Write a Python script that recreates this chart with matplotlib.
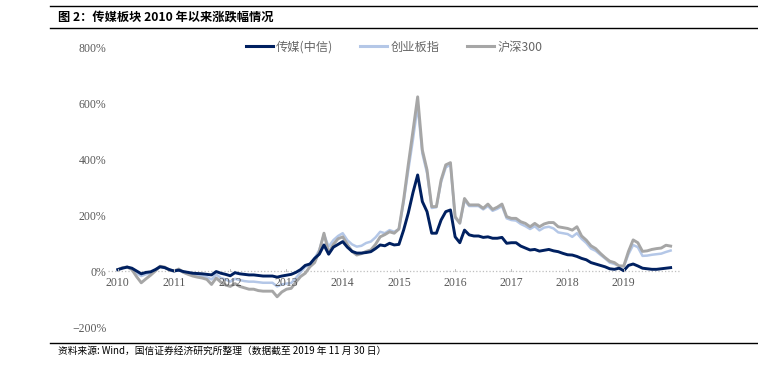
import matplotlib
matplotlib.use("Agg")
import matplotlib.pyplot as plt
import matplotlib.lines as mlines

plt.rcParams['font.family'] = ['Noto Sans CJK SC', 'DejaVu Sans']

# Monthly data, Jan 2010 .. Nov 2019 (month index 0..118), cumulative change in %
media = [5, 10, 14, 10, 0, -10, -5, -3, 5, 15, 12, 5,
         0, 3, -2, -5, -8, -9, -10, -12, -14, -2, -8, -12,
         -17, -6, -10, -12, -14, -14, -16, -18, -18, -18, -22, -18,
         -15, -12, -5, 5, 20, 25, 45, 60, 93, 60, 85, 95,
         105, 85, 70, 64, 64, 66, 69, 80, 93, 90, 99, 93,
         95, 146, 207, 280, 343, 248, 212, 135, 135, 182, 212, 218,
         122, 101, 146, 129, 125, 125, 120, 122, 117, 117, 120, 99,
         101, 101, 89, 82, 75, 77, 71, 74, 77, 72, 69, 63,
         58, 57, 52, 45, 40, 30, 25, 20, 15, 8, 6, 10,
         1, 20, 25, 18, 10, 8, 6, 6, 8, 10, 12]
chinext = [5, 12, 15, 8, -8, -18, -12, -8, 3, 15, 12, 5,
           0, 5, -5, -10, -14, -16, -18, -22, -30, -12, -25, -30,
           -38, -28, -32, -36, -38, -38, -40, -42, -42, -42, -55, -48,
           -45, -43, -25, -5, 15, 20, 45, 75, 130, 87, 110, 125,
           135, 110, 95, 87, 90, 100, 105, 120, 140, 135, 146, 140,
           150, 245, 360, 470, 590, 420, 350, 225, 228, 318, 370, 380,
           190, 170, 252, 232, 232, 232, 220, 232, 215, 222, 232, 188,
           182, 180, 168, 160, 150, 160, 145, 155, 158, 152, 138, 135,
           132, 122, 135, 115, 100, 80, 72, 58, 45, 30, 25, 18,
           16, 60, 93, 85, 54, 55, 58, 60, 62, 68, 73]
hs300 = [5, 12, 14, 5, -20, -42, -28, -15, 0, 17, 14, 3,
         0, 7, -5, -12, -18, -22, -25, -30, -48, -25, -40, -50,
         -55, -45, -55, -60, -65, -65, -70, -72, -72, -72, -92, -75,
         -65, -62, -40, -20, -8, 15, 30, 70, 135, 64, 95, 115,
         122, 95, 70, 57, 62, 70, 75, 95, 122, 130, 140, 135,
         150, 254, 380, 500, 622, 432, 361, 230, 230, 325, 379, 387,
         194, 171, 259, 236, 236, 236, 224, 239, 220, 228, 239, 194,
         188, 188, 176, 170, 158, 170, 158, 168, 173, 173, 158, 155,
         152, 146, 158, 125, 110, 90, 80, 63, 48, 35, 30, 18,
         18, 70, 111, 101, 70, 72, 77, 80, 82, 92, 89]
series_names = ['传媒(中信)', '创业板指', '沪深300']
year_labels = ['2010', '2011', '2012', '2013', '2014', '2015', '2016', '2017', '2018', '2019']
y_ticks = [-200, 0, 200, 400, 600, 800]

months = list(range(len(media)))
c_media, c_cy, c_hs = '#002060', '#B4C7E7', '#A6A6A6'

fig = plt.figure(figsize=(7.58, 3.71), dpi=100)
ax = fig.add_axes([108/758, 44/371, (680-108)/758, (327-47)/371])

ax.plot(months, chinext, color=c_cy, lw=1.8, solid_joinstyle='round')
ax.plot(months, hs300, color=c_hs, lw=2.1, solid_joinstyle='round')
ax.plot(months, media, color=c_media, lw=2.1, solid_joinstyle='round')

ax.set_xlim(-2.1, 120)
ax.set_ylim(-200, 800)
ax.axhline(0, color='#BFBFBF', lw=0.9, ls=':', zorder=0)
for s in ax.spines.values():
    s.set_visible(False)
ax.set_xticks([])
ax.set_yticks(y_ticks)
ax.set_yticklabels([('\u2212' if v < 0 else '') + f'{abs(v)}%' for v in y_ticks],
                   family='Liberation Serif', fontsize=8.5, color='#595959')
ax.tick_params(axis='y', length=0, pad=1)

# year labels below the zero line
for i, lab in enumerate(year_labels):
    ax.text(i * 12, -20, lab, ha='center', va='top', family='Liberation Serif',
            fontsize=8.5, color='#595959')
    ax.plot([i * 12, i * 12], [0, 6], color='#BFBFBF', lw=0.7)

handles = [mlines.Line2D([], [], color=c_media, lw=2.2),
           mlines.Line2D([], [], color=c_cy, lw=2.2),
           mlines.Line2D([], [], color=c_hs, lw=2.2)]
leg = fig.legend(handles, series_names, loc='center', bbox_to_anchor=(394/758, 1 - 47/371),
                 ncol=3, frameon=False, fontsize=8.8, handlelength=2.2, handletextpad=0.3,
                 columnspacing=2.2)
for t in leg.get_texts():
    t.set_color('#666666')

# title and frame lines
fig.add_artist(mlines.Line2D([50/758, 1], [1 - 6/371, 1 - 6/371], color='black', lw=1.0))
fig.add_artist(mlines.Line2D([50/758, 1], [1 - 28/371, 1 - 28/371], color='black', lw=1.0))
fig.add_artist(mlines.Line2D([50/758, 1], [1 - 343/371, 1 - 343/371], color='black', lw=1.0))
fig.text(58/758, 1 - 17/371, '图 2：传媒板块 2010 年以来涨跌幅情况', ha='left', va='center',
         fontsize=8.8, fontweight='bold', color='black')
fig.text(58/758, 1 - 351/371, '资料来源: Wind，国信证券经济研究所整理（数据截至 2019 年 11 月 30 日）',
         ha='left', va='center', fontsize=7, color='black')

fig.savefig('out.png', dpi=100)
